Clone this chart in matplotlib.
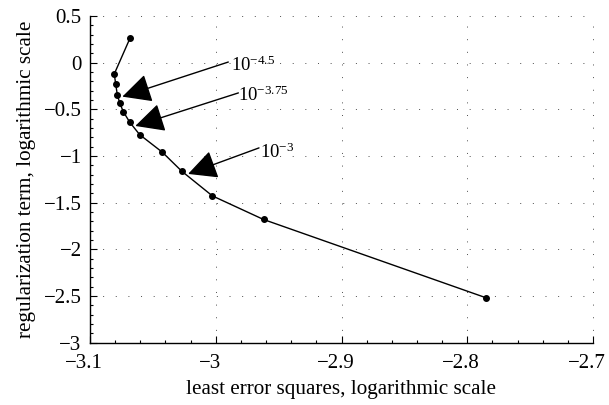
import matplotlib
matplotlib.use("Agg")
import matplotlib.pyplot as plt
from matplotlib.ticker import MultipleLocator
from matplotlib.transforms import ScaledTranslation

plt.rcParams['font.family'] = ['Liberation Serif', 'DejaVu Serif']
plt.rcParams['mathtext.fontset'] = 'custom'
plt.rcParams['mathtext.rm'] = 'Liberation Serif'
plt.rcParams['mathtext.it'] = 'Liberation Serif:italic'
plt.rcParams['mathtext.bf'] = 'Liberation Serif:bold'

# data (log10 scales)
log_err = [-3.068, -3.0807, -3.0796, -3.0783, -3.0764, -3.0735, -3.0684,
           -3.0605, -3.0425, -3.027, -3.0027, -2.962, -2.785]
log_reg = [0.268, -0.121, -0.225, -0.343, -0.431, -0.525, -0.638,
           -0.771, -0.959, -1.163, -1.427, -1.680, -2.519]

labels = [r'$10^{-4.5}$', r'$10^{-3.75}$', r'$10^{-3}$']
arrow_tips = [(-3.0743, -0.364), (-3.064, -0.678), (-3.022, -1.192)]
arrow_starts = [(-2.990, 0.007), (-2.982, -0.324), (-2.9656, -0.913)]
text_pos = [(-2.988, -0.03), (-2.982, -0.35), (-2.9650, -0.955)]

xticks = [-3.1, -3.0, -2.9, -2.8, -2.7]
yticks = [0.5, 0, -0.5, -1, -1.5, -2, -2.5, -3]

fig = plt.figure(figsize=(6.09, 4.05), dpi=100)
ax = fig.add_axes([90/609, 1-342.7/405, (593-90)/609, (342.7-16)/405])

ax.plot(log_err, log_reg, '-', color='black', lw=1.0, marker='o',
        markersize=4, markerfacecolor='black', markeredgecolor='black', zorder=3)

for lab, tip, st, tp in zip(labels, arrow_tips, arrow_starts, text_pos):
    ax.annotate('', xy=tip, xytext=st,
                arrowprops=dict(arrowstyle='-|>,head_length=0.9,head_width=0.45',
                                color='black', lw=1.0, shrinkA=0, shrinkB=0,
                                mutation_scale=20), zorder=4)
    ax.text(tp[0], tp[1], lab, fontsize=13.5, ha='left', va='center', zorder=5)

ax.set_xlim(-3.1, -2.7)
ax.set_ylim(-3, 0.5)
ax.set_xticks(xticks)
ax.set_yticks(yticks)
ax.set_xticklabels(['\u22123.1', '\u22123', '\u22122.9', '\u22122.8', '\u22122.7'])
ax.set_yticklabels(['0.5', '0', '\u22120.5', '\u22121', '\u22121.5', '\u22122', '\u22122.5', '\u22123'])
ax.xaxis.set_minor_locator(MultipleLocator(0.02))
ax.yaxis.set_minor_locator(MultipleLocator(0.1))
ax.tick_params(which='both', direction='in', labelsize=15, width=0.8)
ax.tick_params(which='major', length=5)
ax.tick_params(which='minor', length=2.5)
ax.tick_params(axis='x', pad=8)
ax.tick_params(axis='y', pad=6)

shift = ScaledTranslation(-6/100, 0, fig.dpi_scale_trans)
for lbl in ax.get_xticklabels():
    lbl.set_transform(lbl.get_transform() + shift)

for s in ['top', 'right']:
    ax.spines[s].set_visible(False)
for s in ['left', 'bottom']:
    ax.spines[s].set_linewidth(1.0)

ax.grid(True, which='major', color='0.3', lw=0.7, dashes=(1, 12))
ax.set_axisbelow(True)
for gl in ax.get_xgridlines() + ax.get_ygridlines():
    gl.set_clip_on(False)

ax.set_xlabel('least error squares, logarithmic scale', fontsize=15.2, labelpad=5.5)
ax.set_ylabel('regularization term, logarithmic scale', fontsize=15.2)
ax.yaxis.set_label_coords(-0.108, 0.5)

fig.savefig('out.png', dpi=100)
